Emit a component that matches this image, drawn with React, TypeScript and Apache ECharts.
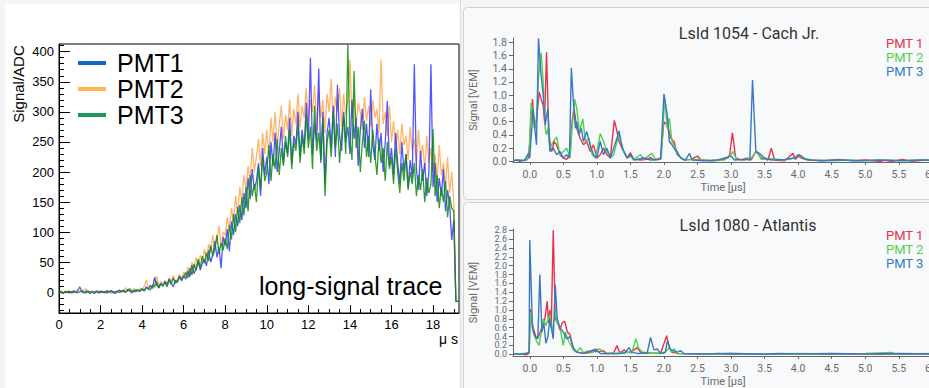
import React, { useEffect, useRef } from "react";
import * as echarts from "echarts";

// ---------------- Left panel: long-signal trace (ADC counts, 0.1 µs bins) ----------------
const LEFT_BIN_US = 0.1;
const pmt1Adc = [
  2, 0, -1, 1, 0, 2, -1, 0, 1, 3,
  9, 1, -1, 2, 0, -2, 1, 0, 2, -1,
  0, 1, -1, 3, 0, 2, 1, -2, 0, 4,
  1, 2, 0, 5, 2, -1, 3, 1, 4, 2,
  6, 3, 9, 5, 11, 7, 25, 12, 8, 15,
  10, 18, 13, 22, 15, 9, 20, 17, 26, 19,
  28, 22, 35, 26, 45, 31, 40, 52, 37, 48,
  55, 44, 70, 50, 62, 85, 58, 75, 40, 92,
  78, 105, 68, 118, 95, 130, 110, 145, 120, 165,
  140, 190, 155, 205, 170, 185, 215, 160, 240, 195,
  225, 180, 250, 210, 265, 200, 235, 275, 215, 250,
  230, 290, 215, 260, 245, 300, 225, 270, 240, 315,
  255, 390, 230, 280, 250, 372, 215, 300, 180, 265,
  290, 240, 310, 225, 345, 260, 235, 300, 250, 275,
  230, 320, 255, 290, 210, 270, 305, 240, 280, 225,
  337, 245, 220, 280, 235, 265, 200, 250, 318, 210,
  240, 195, 265, 215, 180, 250, 200, 230, 175, 220,
  190, 379, 205, 170, 235, 185, 215, 160, 200, 379,
  175, 215, 150, 190, 160, 205, 135, 170, 145, 87,
  120,
];
const pmt2Adc = [
  1, 3, 0, -1, 2, 1, 0, 3, -1, 2,
  2, 0, 4, 6, 1, -1, 2, 0, 1, 3,
  -1, 2, 0, 1, 3, -2, 2, 0, 1, 2,
  3, 0, 8, 2, 4, 1, 6, 3, 2, 7,
  4, 10, 20, 8, 12, 6, 14, 27, 10, 18,
  14, 20, 11, 24, 18, 28, 16, 22, 30, 21,
  34, 27, 42, 30, 50, 38, 58, 44, 62, 50,
  72, 56, 80, 65, 95, 70, 88, 110, 76, 100,
  95, 125, 105, 140, 118, 160, 130, 175, 150, 195,
  170, 210, 185, 240, 200, 225, 255, 210, 265, 230,
  270, 225, 290, 250, 300, 240, 280, 310, 255, 295,
  270, 320, 260, 305, 280, 330, 275, 310, 290, 340,
  285, 320, 300, 345, 270, 335, 290, 320, 265, 330,
  300, 355, 280, 325, 300, 340, 275, 330, 295, 320,
  386, 290, 330, 280, 315, 300, 270, 325, 285, 310,
  275, 320, 290, 305, 265, 387, 280, 300, 260, 310,
  250, 285, 240, 270, 230, 280, 245, 260, 220, 275,
  235, 255, 215, 270, 225, 245, 205, 260, 215, 240,
  200, 230, 185, 245, 195, 215, 175, 225, 165, 200,
  150,
];
const pmt3Adc = [
  0, 1, -2, 2, 0, -1, 1, 2, 0, -1,
  1, 3, 0, -1, 2, 1, 0, -2, 1, 0,
  2, 0, 1, -1, 0, 3, -1, 1, 2, 0,
  1, 4, 0, 3, 6, 2, 1, 5, 3, 2,
  5, 2, 8, 6, 4, 12, 9, 18, 7, 14,
  11, 16, 9, 20, 13, 24, 15, 18, 27, 22,
  25, 33, 24, 40, 29, 47, 36, 55, 41, 60,
  48, 66, 52, 78, 60, 72, 95, 64, 82, 70,
  90, 72, 112, 88, 130, 100, 142, 115, 158, 128,
  175, 135, 195, 160, 180, 150, 210, 170, 225, 185,
  200, 245, 185, 230, 205, 255, 195, 240, 210, 260,
  225, 270, 205, 250, 235, 280, 215, 260, 230, 295,
  240, 275, 205, 310, 235, 265, 220, 290, 160, 250,
  270, 225, 300, 240, 280, 215, 260, 295, 230, 412,
  255, 220, 368, 240, 275, 200, 250, 285, 225, 260,
  215, 270, 230, 195, 255, 215, 240, 185, 250, 205,
  225, 180, 240, 200, 165, 215, 185, 230, 170, 200,
  180, 215, 160, 195, 170, 205, 150, 190, 165, 180,
  271, 160, 195, 140, 175, 150, 185, 125, 160, 140,
  135,
];
const leftTailTime = [19.1, 19.25];
const leftTailAdc = [-15, -15];

const leftXTicks = [0, 2, 4, 6, 8, 10, 12, 14, 16, 18];
const leftYTicks = [0, 50, 100, 150, 200, 250, 300, 350, 400];

// ---------------- Right panels: [time µs, signal VEM] ----------------
const lsid1054Pmt1 = [
  [-0.25, 0.01], [-0.2, 0.02], [-0.15, 0], [-0.1, 0.01], [-0.05, 0.02], [-0.02, 0.05], [0.0, 0.3], [0.02, 0.7],
  [0.04, 0.94], [0.07, 0.5], [0.1, 0.62], [0.14, 1.05], [0.18, 0.9], [0.2, 0.85], [0.22, 0.6], [0.25, 1.65],
  [0.28, 0.5], [0.31, 0.2], [0.33, 0.15], [0.36, 0.3], [0.4, 0.25], [0.45, 0.1], [0.5, 0.05], [0.55, 0.03],
  [0.6, 0.1], [0.63, 0.6], [0.66, 0.8], [0.7, 0.5], [0.75, 0.35], [0.8, 0.25], [0.85, 0.3], [0.9, 0.15],
  [0.95, 0.25], [1.0, 0.05], [1.05, 0.1], [1.1, 0.2], [1.15, 0.1], [1.2, 0.05], [1.26, 0.62], [1.29, 0.5],
  [1.33, 0.3], [1.4, 0.15], [1.45, 0.05], [1.5, 0.13], [1.55, 0.03], [1.65, 0.02], [1.75, 0.03], [1.8, 0.06],
  [1.85, 0.02], [1.95, 0.05], [2.0, 0.6], [2.05, 0.55], [2.1, 0.35], [2.15, 0.3], [2.2, 0.1], [2.3, 0.02],
  [2.4, 0.03], [2.5, 0.08], [2.55, 0.02], [2.7, 0.01], [2.85, 0.02], [2.95, 0.05], [2.98, 0.1], [3.02, 0.43],
  [3.07, 0.05], [3.15, 0.02], [3.25, 0.05], [3.3, 0.02], [3.37, 0.15], [3.45, 0.05], [3.55, 0.02], [3.6, 0.2],
  [3.65, 0.02], [3.8, 0.01], [3.92, 0.12], [3.96, 0.03], [4.0, 0.08], [4.05, 0.05], [4.15, 0.02], [4.4, 0.01],
  [4.6, 0.03], [4.8, 0.01], [5.0, 0.02], [5.2, 0.0], [5.3, -0.02], [5.45, 0.01], [5.55, 0.03], [5.7, 0.0],
  [5.9, 0.02], [6.1, 0.01],
];
const lsid1054Pmt2 = [
  [-0.25, 0.02], [-0.15, 0.01], [-0.05, 0.02], [-0.01, 0.1], [0.02, 0.88], [0.05, 0.7], [0.07, 0.5], [0.1, 0.65],
  [0.13, 1.25], [0.17, 1.64], [0.2, 1.2], [0.23, 0.5], [0.25, 0.4], [0.27, 0.5], [0.3, 0.2], [0.35, 0.3],
  [0.4, 0.37], [0.45, 0.1], [0.5, 0.15], [0.55, 0.2], [0.6, 0.05], [0.63, 0.5], [0.67, 0.94], [0.7, 0.8],
  [0.74, 0.45], [0.79, 0.64], [0.83, 0.3], [0.88, 0.35], [0.93, 0.1], [0.98, 0.05], [1.05, 0.42], [1.1, 0.3],
  [1.15, 0.15], [1.2, 0.05], [1.25, 0.1], [1.3, 0.3], [1.33, 0.4], [1.4, 0.15], [1.45, 0.05], [1.5, 0.08],
  [1.55, 0.03], [1.65, 0.1], [1.7, 0.03], [1.82, 0.12], [1.88, 0.02], [1.96, 0.05], [2.01, 0.95], [2.05, 0.5],
  [2.08, 0.65], [2.12, 0.3], [2.2, 0.15], [2.25, 0.05], [2.3, 0.02], [2.5, 0.03], [2.7, 0.01], [2.9, 0.02],
  [3.0, 0.1], [3.03, 0.15], [3.08, 0.03], [3.2, 0.02], [3.3, 0.05], [3.38, 0.15], [3.45, 0.03], [3.6, 0.04],
  [3.8, 0.02], [3.95, 0.05], [4.02, 0.1], [4.08, 0.05], [4.2, 0.02], [4.5, 0.01], [4.7, 0.02], [5.0, 0.01],
  [5.3, 0.02], [5.6, 0.01], [5.9, 0.02], [6.1, 0.01],
];
const lsid1054Pmt3 = [
  [-0.25, 0.01], [-0.15, 0.02], [-0.08, 0.01], [-0.02, 0.12], [0.0, 0.05], [0.03, 0.5], [0.05, 0.8], [0.08, 0.45],
  [0.1, 0.25], [0.13, 1.86], [0.16, 1.4], [0.2, 1.0], [0.23, 0.55], [0.27, 0.8], [0.3, 0.15], [0.35, 0.2],
  [0.4, 0.1], [0.45, 0.15], [0.5, 0.05], [0.55, 0.1], [0.59, 0.05], [0.62, 1.41], [0.65, 0.9], [0.68, 0.5],
  [0.7, 0.6], [0.73, 0.4], [0.77, 0.5], [0.8, 0.3], [0.85, 0.45], [0.9, 0.25], [0.95, 0.1], [1.0, 0.05],
  [1.05, 0.3], [1.1, 0.1], [1.15, 0.2], [1.2, 0.05], [1.25, 0.2], [1.3, 0.35], [1.33, 0.46], [1.38, 0.2],
  [1.45, 0.05], [1.5, 0.1], [1.55, 0.02], [1.7, 0.05], [1.8, 0.02], [1.95, 0.03], [2.0, 1.02], [2.05, 0.7],
  [2.08, 0.3], [2.12, 0.25], [2.18, 0.15], [2.25, 0.05], [2.32, 0.02], [2.38, 0.12], [2.42, 0.02], [2.6, 0.01],
  [2.8, 0.02], [3.0, 0.08], [3.05, 0.02], [3.2, 0.03], [3.28, 0.02], [3.32, 1.23], [3.37, 0.15], [3.42, 0.12],
  [3.5, 0.05], [3.6, 0.02], [3.8, 0.03], [3.95, 0.05], [4.0, 0.1], [4.05, 0.08], [4.1, 0.03], [4.3, 0.01],
  [4.6, 0.02], [4.9, 0.01], [5.2, 0.02], [5.5, 0.01], [5.8, 0.02], [6.1, 0.01],
];

const lsid1080Pmt1 = [
  [-0.25, 0.0], [-0.15, 0.01], [-0.05, -0.01], [-0.01, 0.02], [0.01, 1.02], [0.05, 0.6], [0.1, 0.35], [0.13, 0.4],
  [0.18, 0.6], [0.22, 0.75], [0.26, 1.2], [0.28, 0.7], [0.3, 1.0], [0.32, 0.6], [0.35, 2.8], [0.38, 0.8],
  [0.42, 0.7], [0.45, 0.55], [0.48, 0.7], [0.52, 0.75], [0.56, 0.5], [0.6, 0.45], [0.65, 0.1], [0.7, 0.05],
  [0.8, 0.02], [0.9, 0.04], [0.98, 0.12], [1.02, 0.05], [1.1, 0.08], [1.15, 0.02], [1.25, 0.03], [1.3, 0.2],
  [1.34, 0.03], [1.41, 0.1], [1.45, 0.04], [1.52, 0.06], [1.6, 0.15], [1.65, 0.05], [1.8, 0.03], [1.95, 0.02],
  [2.04, 0.42], [2.08, 0.15], [2.12, 0.05], [2.2, 0.02], [2.4, 0.01], [2.6, 0.0], [2.8, 0.02], [3.0, 0.0],
  [3.3, 0.01], [3.6, 0.0], [4.0, 0.01], [4.4, 0.0], [4.8, 0.01], [5.2, 0.0], [5.6, 0.01], [6.1, 0.0],
];
const lsid1080Pmt2 = [
  [-0.25, 0.01], [-0.1, 0.02], [-0.01, 0.03], [0.01, 0.95], [0.05, 0.5], [0.1, 0.3], [0.14, 0.2], [0.17, 0.5],
  [0.2, 0.8], [0.24, 0.65], [0.3, 0.9], [0.33, 0.5], [0.38, 0.95], [0.41, 0.7], [0.45, 0.6], [0.5, 0.2],
  [0.53, 0.5], [0.58, 0.3], [0.65, 0.1], [0.7, 0.05], [0.75, 0.15], [0.8, 0.03], [0.87, 0.08], [0.92, 0.03],
  [1.02, 0.12], [1.07, 0.1], [1.12, 0.02], [1.3, 0.03], [1.45, 0.05], [1.52, 0.03], [1.58, 0.35], [1.62, 0.15],
  [1.65, 0.1], [1.7, 0.02], [1.9, 0.03], [2.0, 0.02], [2.08, 0.15], [2.11, 0.05], [2.15, 0.12], [2.2, 0.02],
  [2.5, 0.01], [3.0, 0.02], [3.5, 0.01], [4.0, 0.02], [4.5, 0.01], [5.0, 0.02], [5.38, 0.04], [5.45, 0.01],
  [6.1, 0.02],
];
const lsid1080Pmt3 = [
  [-0.25, 0.02], [-0.15, 0.0], [-0.05, 0.02], [-0.01, 0.05], [0.0, 2.58], [0.04, 0.6], [0.08, 0.4], [0.12, 0.35],
  [0.15, 1.8], [0.18, 0.5], [0.21, 0.7], [0.24, 0.25], [0.27, 0.4], [0.3, 0.8], [0.35, 0.35], [0.38, 1.57],
  [0.41, 0.8], [0.45, 0.6], [0.5, 0.5], [0.55, 0.35], [0.6, 0.4], [0.65, 0.15], [0.7, 0.05], [0.8, 0.02],
  [0.95, 0.1], [0.98, 0.05], [1.0, 0.1], [1.05, 0.02], [1.3, 0.01], [1.42, 0.03], [1.48, 0.15], [1.52, 0.05],
  [1.6, 0.02], [1.75, 0.03], [1.8, 0.38], [1.85, 0.1], [1.9, 0.12], [1.95, 0.02], [2.02, 0.05], [2.05, 0.3],
  [2.1, 0.1], [2.2, 0.05], [2.25, 0.08], [2.3, 0.02], [2.6, 0.01], [3.0, 0.02], [3.5, 0.0], [3.7, 0.02],
  [4.0, 0.01], [4.5, 0.02], [5.0, 0.01], [5.5, 0.02], [6.1, 0.01],
];

const rightXTicks = [0, 0.5, 1.0, 1.5, 2.0, 2.5, 3.0, 3.5, 4.0, 4.5, 5.0, 5.5, 6.0];
const topYTicks = [0, 0.2, 0.4, 0.6, 0.8, 1.0, 1.2, 1.4, 1.6, 1.8];
const bottomYTicks = [0, 0.2, 0.4, 0.6, 0.8, 1.0, 1.2, 1.4, 1.6, 1.8, 2.0, 2.2, 2.4, 2.6, 2.8];

const ARIAL = "'Liberation Sans', Arial, sans-serif";
const ROBOTO = "Roboto, 'Noto Sans', sans-serif";

function steps(from: number, to: number, step: number): number[] {
  const out: number[] = [];
  const n = Math.round((to - from) / step);
  for (let i = 0; i <= n; i++) out.push(+(from + i * step).toFixed(4));
  return out;
}

function traceData(values: number[]): number[][] {
  const pts = values.map((v, i) => [+(i * LEFT_BIN_US).toFixed(2), v]);
  leftTailTime.forEach((t, i) => pts.push([t, leftTailAdc[i]]));
  return pts;
}

export default function App() {
  const ref = useRef<HTMLDivElement>(null);

  useEffect(() => {
    if (!ref.current) return;
    const chart = echarts.init(ref.current, undefined, { renderer: "svg" });

    const mkRightX = (gridIndex: number) => ({
      type: "value",
      gridIndex,
      min: -0.25,
      max: 6.01,
      position: "bottom",
      axisLine: { onZero: false, lineStyle: { color: "#666", width: 1 } },
      splitLine: { show: false },
      axisTick: { show: true, length: 3, customValues: rightXTicks, lineStyle: { color: "#666" } },
      axisLabel: {
        customValues: rightXTicks,
        formatter: (v: number) => v.toFixed(1),
        fontSize: 10.5,
        fontFamily: ROBOTO,
        color: "#6a6a6a",
        margin: 7,
      },
      name: "Time [µs]",
      nameLocation: "middle",
      nameGap: 20,
      nameTextStyle: { fontSize: 11, fontFamily: ROBOTO, color: "#6a6a6a" },
    });
    const mkRightY = (gridIndex: number, min: number, max: number, ticks: number[], fontSize: number) => ({
      type: "value",
      gridIndex,
      min,
      max,
      position: "left",
      axisLine: { onZero: false, lineStyle: { color: "#666", width: 1 } },
      splitLine: { show: false },
      axisTick: { show: true, length: 4, customValues: ticks, lineStyle: { color: "#666" } },
      axisLabel: {
        customValues: ticks,
        formatter: (v: number) => v.toFixed(1),
        fontSize,
        lineHeight: fontSize,
        fontFamily: ROBOTO,
        color: "#6a6a6a",
        margin: 6,
      },
      name: "Signal [VEM]",
      nameLocation: "middle",
      nameGap: 34,
      nameTextStyle: { fontSize: 11, fontFamily: ROBOTO, color: "#6a6a6a" },
    });

    const rightColors = ["#e8324a", "#4fd24f", "#3b78c2"];
    const rightLine = (name: string, data: number[][], color: string, axis: number) => ({
      type: "line",
      name,
      xAxisIndex: axis,
      yAxisIndex: axis,
      data,
      symbol: "none",
      color,
      lineStyle: { color, width: 1.4 },
      clip: true,
    });
    const leftLine = (name: string, values: number[], color: string, opacity: number) => ({
      type: "line",
      name,
      xAxisIndex: 0,
      yAxisIndex: 0,
      data: traceData(values),
      symbol: "none",
      color,
      lineStyle: { color, width: 1.3, opacity },
    });

    const option = {
      animation: false,
      backgroundColor: "#f4f4f4",
      graphic: [
        { type: "rect", z: -1, silent: true, shape: { x: 5, y: 4, width: 455, height: 390 }, style: { fill: "#ffffff" } },
        { type: "line", z: -1, silent: true, shape: { x1: 460.5, y1: 0, x2: 460.5, y2: 388 }, style: { stroke: "#dddddd", lineWidth: 1 } },
        { type: "rect", z: -1, silent: true, shape: { x: 463.5, y: 7.5, width: 480, height: 192, r: 4 }, style: { fill: "#f8f9fa", stroke: "#cfd2d6", lineWidth: 1 } },
        { type: "rect", z: -1, silent: true, shape: { x: 463.5, y: 202.5, width: 480, height: 200, r: 4 }, style: { fill: "#f8f9fa", stroke: "#cfd2d6", lineWidth: 1 } },
        { type: "text", x: 18, y: 84, rotation: Math.PI / 2, style: { text: "Signal/ADC", fontSize: 15, fontFamily: ARIAL, fill: "#000", align: "center", verticalAlign: "middle" } },
        { type: "text", x: 458, y: 339, style: { text: "μ s", fontSize: 14, fontFamily: ARIAL, fill: "#000", align: "right", verticalAlign: "middle" } },
        { type: "text", z: 100, x: 259, y: 286, style: { text: "long-signal trace", fontSize: 25, fontFamily: ARIAL, fill: "#000", align: "left", verticalAlign: "middle" } },
        { type: "text", x: 749, y: 33, style: { text: "LsId 1054 - Cach Jr.", fontSize: 16, fontFamily: ROBOTO, fill: "#333", align: "center", verticalAlign: "middle" } },
        { type: "text", x: 748, y: 225, style: { text: "LsId 1080 - Atlantis", fontSize: 16, fontFamily: ROBOTO, fill: "#333", align: "center", verticalAlign: "middle" } },
      ],
      grid: [
        { left: 59, top: 44, width: 400, height: 269, show: true, backgroundColor: "#ffffff", borderColor: "#000", borderWidth: 1 },
        { left: 513, top: 38, width: 420, height: 124 },
        { left: 513, top: 229, width: 420, height: 127 },
      ],
      xAxis: [
        {
          type: "value", gridIndex: 0, min: 0, max: 19.25, position: "bottom",
          axisLine: { onZero: false, lineStyle: { color: "#000" } },
          axisTick: { inside: true, length: 8, customValues: leftXTicks, lineStyle: { color: "#000" } },
          axisLabel: { customValues: leftXTicks, fontSize: 13, fontFamily: ARIAL, color: "#000", margin: 5 },
          splitLine: { show: false },
        },
        {
          type: "value", gridIndex: 0, min: 0, max: 19.25, position: "bottom",
          axisLine: { show: false, onZero: false },
          axisTick: { inside: true, length: 4, customValues: steps(0, 19, 0.5), lineStyle: { color: "#000" } },
          axisLabel: { show: false },
          splitLine: { show: false },
        },
        mkRightX(1),
        mkRightX(2),
      ],
      yAxis: [
        {
          type: "value", gridIndex: 0, min: -34.4, max: 412.8, position: "left",
          axisLine: { onZero: false, lineStyle: { color: "#000" } },
          axisTick: { inside: true, length: 11, customValues: leftYTicks, lineStyle: { color: "#000" } },
          axisLabel: { customValues: leftYTicks, fontSize: 13, fontFamily: ARIAL, color: "#000", margin: 5 },
          splitLine: { show: false },
        },
        {
          type: "value", gridIndex: 0, min: -34.4, max: 412.8, position: "left",
          axisLine: { show: false, onZero: false },
          axisTick: { inside: true, length: 5, customValues: steps(-30, 410, 10), lineStyle: { color: "#000" } },
          axisLabel: { show: false },
          splitLine: { show: false },
        },
        mkRightY(1, -0.01, 1.865, topYTicks, 10.5),
        mkRightY(2, -0.038, 2.828, bottomYTicks, 9),
      ],
      legend: [
        {
          orient: "vertical", left: 78, top: 50, padding: 0, itemWidth: 28, itemHeight: 4, itemGap: 0, icon: "rect",
          selectedMode: false,
          textStyle: { fontSize: 25, fontFamily: ARIAL, color: "#000", lineHeight: 26, padding: [0, 0, 0, 6] },
          data: [
            { name: "PMT1", itemStyle: { color: "#1565c0" } },
            { name: "PMT2", itemStyle: { color: "#ffb74d" } },
            { name: "PMT3", itemStyle: { color: "#1a9a5c" } },
          ],
        },
        {
          orient: "vertical", left: 881, top: 36, padding: 0, itemWidth: 0, itemHeight: 0, itemGap: 0, icon: "none",
          selectedMode: false,
          textStyle: { fontSize: 13, fontFamily: ROBOTO, lineHeight: 14 },
          data: [
            { name: "PMT 1", textStyle: { color: rightColors[0] } },
            { name: "PMT 2", textStyle: { color: rightColors[1] } },
            { name: "PMT 3", textStyle: { color: rightColors[2] } },
          ],
        },
        {
          orient: "vertical", left: 881, top: 228, padding: 0, itemWidth: 0, itemHeight: 0, itemGap: 0, icon: "none",
          selectedMode: false,
          textStyle: { fontSize: 13, fontFamily: ROBOTO, lineHeight: 14 },
          data: [
            { name: "PMT 1", textStyle: { color: rightColors[0] } },
            { name: "PMT 2", textStyle: { color: rightColors[1] } },
            { name: "PMT 3", textStyle: { color: rightColors[2] } },
          ],
        },
      ],
      series: [
        leftLine("PMT2", pmt2Adc, "#ff8c1a", 0.65),
        leftLine("PMT1", pmt1Adc, "#2a2aff", 0.8),
        leftLine("PMT3", pmt3Adc, "#0c8c0c", 0.85),
        rightLine("PMT 1", lsid1054Pmt1, rightColors[0], 2),
        rightLine("PMT 2", lsid1054Pmt2, rightColors[1], 2),
        rightLine("PMT 3", lsid1054Pmt3, rightColors[2], 2),
        rightLine("PMT 1", lsid1080Pmt1, rightColors[0], 3),
        rightLine("PMT 2", lsid1080Pmt2, rightColors[1], 3),
        rightLine("PMT 3", lsid1080Pmt3, rightColors[2], 3),
      ],
    };

    chart.setOption(option as any);
    return () => chart.dispose();
  }, []);

  // The chart surface is slightly wider than the 929px window so that the
  // right panels' time axis runs off the edge, as in the reference.
  return (
    <div
      ref={ref}
      style={{ position: "fixed", left: 0, top: 0, width: 945, height: 388 }}
    />
  );
}
